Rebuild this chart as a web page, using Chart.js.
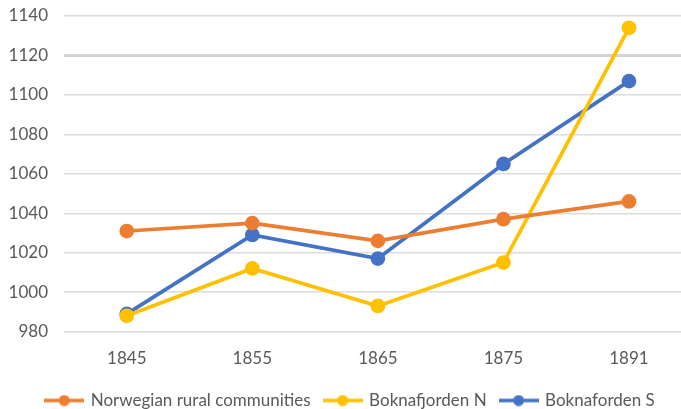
<!DOCTYPE html>
<html>
<head>
<meta charset="utf-8">
<script src="https://cdn.jsdelivr.net/npm/chart.js@4/dist/chart.umd.min.js"></script>
<style>
  html,body{margin:0;padding:0;background:#fff;overflow:hidden}
  canvas{display:block}
</style>
</head>
<body>
<canvas id="c" width="701" height="409"></canvas>
<script>
// data
const years = ['1845','1855','1865','1875','1891'];
const rural = [1031, 1035, 1026, 1037, 1046];
const boknaN = [988, 1012, 993, 1015, 1134];
const boknaS = [989, 1029, 1017, 1065, 1107];
const seriesNames = ['Norwegian rural communities','Boknafjorden N','Boknaforden S'];
const colors = ['#ED7D31','#FFC000','#4472C4'];
const FONT = {family:'Lato', size:17};

// legend marker: short line with a dot in the middle
function marker(col){
  const cv=document.createElement('canvas');
  cv.width=40; cv.height=12;
  const g=cv.getContext('2d');
  g.strokeStyle=col; g.lineWidth=3.5;
  g.beginPath(); g.moveTo(0,6); g.lineTo(40,6); g.stroke();
  g.fillStyle=col; g.beginPath(); g.arc(20,6,5.5,0,Math.PI*2); g.fill();
  return cv;
}

const mk=(i,data)=>({
  label:seriesNames[i], data,
  borderColor:colors[i], backgroundColor:colors[i],
  borderWidth:3.75, pointRadius:5.5, pointHoverRadius:5.5,
  pointStyle:'circle', tension:0
});

new Chart(document.getElementById('c'),{
  type:'line',
  data:{labels:years,datasets:[mk(0,rural),mk(1,boknaN),mk(2,boknaS)]},
  options:{
    responsive:false, animation:false,
    layout:{padding:{left:0,right:0,top:16,bottom:-10}},
    plugins:{
      legend:{position:'bottom',onClick:null,
        labels:{usePointStyle:true,pointStyleWidth:36,color:'#595959',font:FONT,padding:14,
          generateLabels(ch){
            const items=Chart.defaults.plugins.legend.labels.generateLabels(ch);
            items.forEach((it,i)=>{it.pointStyle=marker(colors[i]);});
            return items;
          }}},
      tooltip:{enabled:false}
    },
    scales:{
      x:{offset:true,grid:{display:false},border:{display:false},
        ticks:{color:'#595959',font:FONT,padding:9},
        afterFit(s){ s.paddingLeft=0; s.paddingRight=0; }},
      y:{min:980,max:1140,
        ticks:{stepSize:20,color:'#595959',font:FONT,padding:16,callback:v=>String(v)},
        border:{display:false},
        afterFit(s){ s.width=64; s.paddingTop=0; s.paddingBottom=0; },
        grid:{color:ctx=>ctx.tick&&ctx.tick.value===1120?'#d4d4d4':'#dcdcdc',
              lineWidth:ctx=>ctx.tick&&ctx.tick.value===1120?3:1.5,drawTicks:false}}
    }
  }
});
</script>
</body>
</html>
